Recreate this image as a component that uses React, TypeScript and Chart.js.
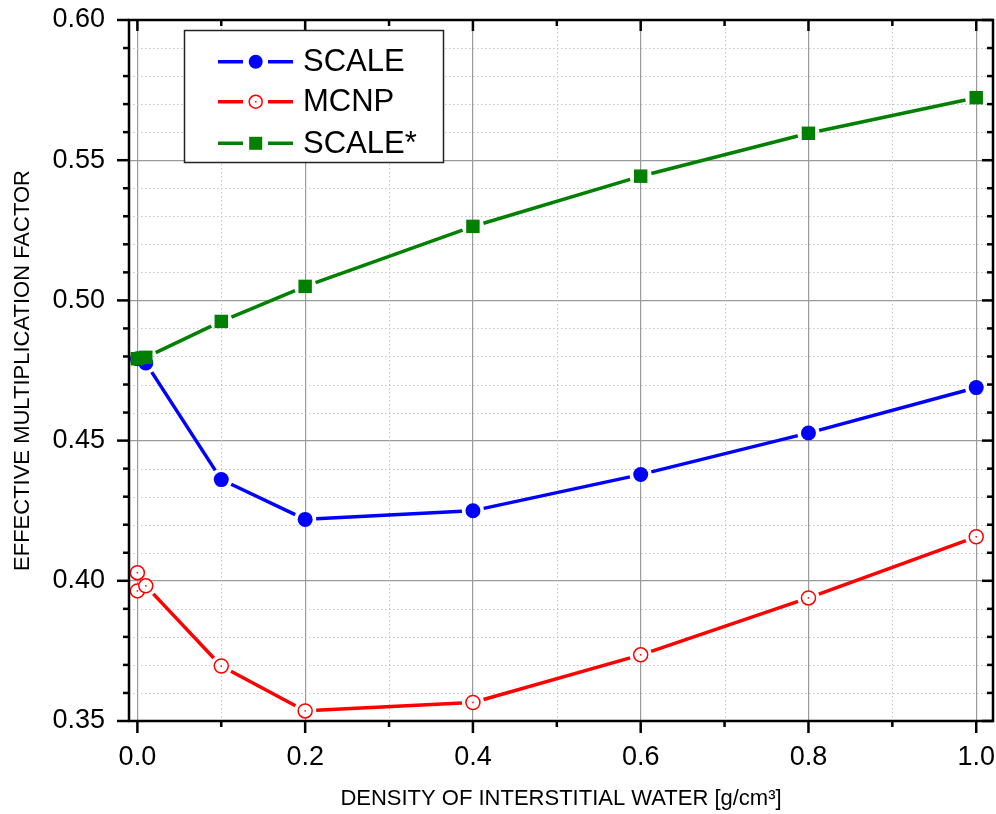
import React, { useEffect, useRef } from 'react';
import { Chart, registerables } from 'chart.js';

Chart.register(...registerables);

// ---- data ----
const densities = [0, 0.01, 0.1, 0.2, 0.4, 0.6, 0.8, 1.0];
const scaleValues = [0.4792, 0.4777, 0.4361, 0.4219, 0.425, 0.4379, 0.4527, 0.4689];
const mcnpDensities = [0, 0, 0.01, 0.1, 0.2, 0.4, 0.6, 0.8, 1.0];
const mcnpValues = [0.4029, 0.3964, 0.3982, 0.3696, 0.3536, 0.3566, 0.3736, 0.3939, 0.4157];
const scaleStarValues = [0.4792, 0.4797, 0.4925, 0.505, 0.5264, 0.5443, 0.5596, 0.5723];
const seriesLabels = ['SCALE', 'MCNP', 'SCALE*'];
const xMajorTicks = [0, 0.2, 0.4, 0.6, 0.8, 1.0];
const xMinorTicks = [0.1, 0.3, 0.5, 0.7, 0.9];
const yMajorTicks = [0.35, 0.4, 0.45, 0.5, 0.55, 0.6];
const yMinorTicks = [
  0.36, 0.37, 0.38, 0.39, 0.41, 0.42, 0.43, 0.44, 0.46, 0.47, 0.48, 0.49,
  0.51, 0.52, 0.53, 0.54, 0.56, 0.57, 0.58, 0.59,
];
const xTitle = 'DENSITY OF INTERSTITIAL WATER [g/cm\u00B3]';
const yTitle = 'EFFECTIVE MULTIPLICATION FACTOR';

const FONT = "'Liberation Sans', Arial, Helvetica, sans-serif";
const GAP = 11;

const toPoints = (xs: number[], ys: number[]) => xs.map((x, i) => ({ x, y: ys[i] }));

const decorPlugin = {
  id: 'decor',
  beforeDatasetsDraw(chart: any) {
    const { ctx, chartArea, scales } = chart;
    const { left, right, top, bottom } = chartArea;
    ctx.save();
    // minor dotted grid
    ctx.strokeStyle = '#c4c4c4';
    ctx.lineWidth = 1;
    ctx.setLineDash([1.5, 2.5]);
    xMinorTicks.forEach((v) => {
      const px = Math.round(scales.x.getPixelForValue(v)) + 0.5;
      ctx.beginPath();
      ctx.moveTo(px, top);
      ctx.lineTo(px, bottom);
      ctx.stroke();
    });
    yMinorTicks.forEach((v) => {
      const py = Math.round(scales.y.getPixelForValue(v)) + 0.5;
      ctx.beginPath();
      ctx.moveTo(left, py);
      ctx.lineTo(right, py);
      ctx.stroke();
    });
    ctx.setLineDash([]);
    // connecting lines with gaps around markers
    chart.data.datasets.forEach((ds: any, i: number) => {
      const meta = chart.getDatasetMeta(i);
      const pts = meta.data;
      ctx.strokeStyle = ds.lineColor;
      ctx.lineWidth = 3.5;
      ctx.lineCap = 'butt';
      for (let j = 0; j < pts.length - 1; j++) {
        const a = pts[j];
        const b = pts[j + 1];
        const dx = b.x - a.x;
        const dy = b.y - a.y;
        const len = Math.hypot(dx, dy);
        if (len <= 2 * GAP + 1) continue;
        const ux = dx / len;
        const uy = dy / len;
        ctx.beginPath();
        ctx.moveTo(a.x + ux * GAP, a.y + uy * GAP);
        ctx.lineTo(b.x - ux * GAP, b.y - uy * GAP);
        ctx.stroke();
      }
    });
    ctx.restore();
  },
  afterDatasetsDraw(chart: any) {
    const { ctx, chartArea, scales } = chart;
    const { left, right, top, bottom } = chartArea;
    ctx.save();
    // small centre dots of hollow circles
    chart.data.datasets.forEach((ds: any, i: number) => {
      if (!ds.centerDot) return;
      const meta = chart.getDatasetMeta(i);
      ctx.fillStyle = ds.lineColor;
      meta.data.forEach((p: any) => ctx.fillRect(p.x - 0.75, p.y - 0.75, 1.5, 1.5));
    });
    // ticks
    ctx.strokeStyle = '#000';
    ctx.lineWidth = 2.5;
    ctx.lineCap = 'butt';
    const line = (x1: number, y1: number, x2: number, y2: number) => {
      ctx.beginPath();
      ctx.moveTo(x1, y1);
      ctx.lineTo(x2, y2);
      ctx.stroke();
    };
    xMajorTicks.forEach((v) => {
      const px = scales.x.getPixelForValue(v);
      line(px, bottom, px, bottom + 12);
      line(px, top, px, top + 11);
    });
    xMinorTicks.forEach((v) => {
      const px = scales.x.getPixelForValue(v);
      line(px, bottom, px, bottom + 6);
      line(px, top, px, top + 6);
    });
    yMajorTicks.forEach((v) => {
      const py = scales.y.getPixelForValue(v);
      line(left - 12, py, left, py);
      line(right - 11, py, right, py);
    });
    yMinorTicks.forEach((v) => {
      const py = scales.y.getPixelForValue(v);
      line(left - 6, py, left, py);
      line(right - 6, py, right, py);
    });
    // frame
    ctx.strokeRect(left, top, right - left, bottom - top);
    ctx.restore();
  },
  afterDraw(chart: any) {
    const { ctx } = chart;
    ctx.save();
    const bx = 184.5;
    const by = 30.5;
    const bw = 259;
    const bh = 132;
    ctx.fillStyle = '#fff';
    ctx.fillRect(bx, by, bw, bh);
    ctx.strokeStyle = '#222';
    ctx.lineWidth = 1.5;
    ctx.strokeRect(bx, by, bw, bh);
    const rows = [61.7, 101.7, 143.3];
    chart.data.datasets.forEach((ds: any, i: number) => {
      const y = rows[i];
      ctx.strokeStyle = ds.lineColor;
      ctx.lineWidth = 3.5;
      ctx.beginPath();
      ctx.moveTo(218, y);
      ctx.lineTo(243, y);
      ctx.moveTo(268, y);
      ctx.lineTo(293, y);
      ctx.stroke();
      const mx = 255.7;
      if (ds.pointStyle === 'rect') {
        ctx.fillStyle = ds.lineColor;
        ctx.fillRect(mx - 6.5, y - 6.5, 13, 13);
      } else if (ds.centerDot) {
        ctx.fillStyle = '#fff';
        ctx.strokeStyle = ds.lineColor;
        ctx.lineWidth = 1.5;
        ctx.beginPath();
        ctx.arc(mx, y, 6.5, 0, Math.PI * 2);
        ctx.fill();
        ctx.stroke();
        ctx.fillStyle = ds.lineColor;
        ctx.fillRect(mx - 0.75, y - 0.75, 1.5, 1.5);
      } else {
        ctx.fillStyle = ds.lineColor;
        ctx.beginPath();
        ctx.arc(mx, y, 7, 0, Math.PI * 2);
        ctx.fill();
      }
      ctx.fillStyle = '#000';
      ctx.font = `31px ${FONT}`;
      ctx.textAlign = 'left';
      ctx.textBaseline = 'middle';
      ctx.fillText(ds.label, 303, y + 1);
    });
    ctx.restore();
  },
};

export default function App() {
  const ref = useRef<HTMLCanvasElement | null>(null);

  useEffect(() => {
    const canvas = ref.current;
    if (!canvas) return;
    Chart.defaults.font.family = FONT;
    const chart = new Chart(canvas, {
      type: 'scatter',
      data: {
        datasets: [
          {
            label: seriesLabels[0],
            data: toPoints(densities, scaleValues),
            showLine: false,
            pointStyle: 'circle',
            pointRadius: 7.5,
            pointBackgroundColor: '#0000ff',
            pointBorderColor: '#0000ff',
            pointBorderWidth: 0,
            lineColor: '#0000ff',
            order: 3,
            clip: false,
          } as any,
          {
            label: seriesLabels[1],
            data: toPoints(mcnpDensities, mcnpValues),
            showLine: false,
            pointStyle: 'circle',
            pointRadius: 7,
            pointBackgroundColor: '#ffffff',
            pointBorderColor: '#ff0000',
            pointBorderWidth: 1.5,
            lineColor: '#ff0000',
            centerDot: true,
            order: 2,
            clip: false,
          } as any,
          {
            label: seriesLabels[2],
            data: toPoints(densities, scaleStarValues),
            showLine: false,
            pointStyle: 'rect',
            pointRadius: 9.5,
            pointBackgroundColor: '#008000',
            pointBorderColor: '#008000',
            pointBorderWidth: 0,
            lineColor: '#008000',
            order: 1,
            clip: false,
          } as any,
        ],
      },
      options: {
        animation: false,
        responsive: false,
        devicePixelRatio: 1,
        events: [],
        layout: { autoPadding: false, padding: { top: 20, right: 3, left: 0, bottom: 0 } },
        plugins: {
          legend: { display: false },
          tooltip: { enabled: false },
        },
        scales: {
          x: {
            type: 'linear',
            min: -0.01,
            max: 1.02,
            afterBuildTicks: (s: any) => {
              s.ticks = xMajorTicks.map((v) => ({ value: v }));
            },
            afterFit: (s: any) => {
              s.height = 93;
              s.paddingLeft = 0;
              s.paddingRight = 0;
            },
            ticks: {
              font: { size: 27, family: FONT },
              color: '#000',
              padding: 20,
              maxRotation: 0,
              autoSkip: false,
              callback: (v: any) => Number(v).toFixed(1),
            },
            grid: { color: '#9a9a9a', lineWidth: 1.2, drawTicks: false },
            border: { display: false },
            title: {
              display: true,
              text: xTitle,
              color: '#000',
              font: { size: 22, family: FONT },
              padding: { top: 0, bottom: 2 },
            },
          },
          y: {
            type: 'linear',
            min: 0.35,
            max: 0.6,
            afterBuildTicks: (s: any) => {
              s.ticks = yMajorTicks.map((v) => ({ value: v }));
            },
            afterFit: (s: any) => {
              s.width = 129;
              s.paddingTop = 0;
              s.paddingBottom = 0;
            },
            ticks: {
              font: { size: 27, family: FONT },
              color: '#000',
              padding: 24,
              autoSkip: false,
              callback: (v: any) => Number(v).toFixed(2),
            },
            grid: { color: '#9a9a9a', lineWidth: 1.2, drawTicks: false },
            border: { display: false },
            title: {
              display: true,
              text: yTitle,
              color: '#000',
              font: { size: 22, family: FONT },
              padding: { top: 10, bottom: 0 },
            },
          },
        },
      } as any,
      plugins: [decorPlugin],
    });
    return () => chart.destroy();
  }, []);

  return (
    <div
      style={{
        position: 'fixed',
        left: 0,
        top: 0,
        width: 996,
        height: 814,
        background: '#fff',
      }}
    >
      <canvas ref={ref} width={996} height={814} style={{ display: 'block', width: 996, height: 814 }} />
    </div>
  );
}
